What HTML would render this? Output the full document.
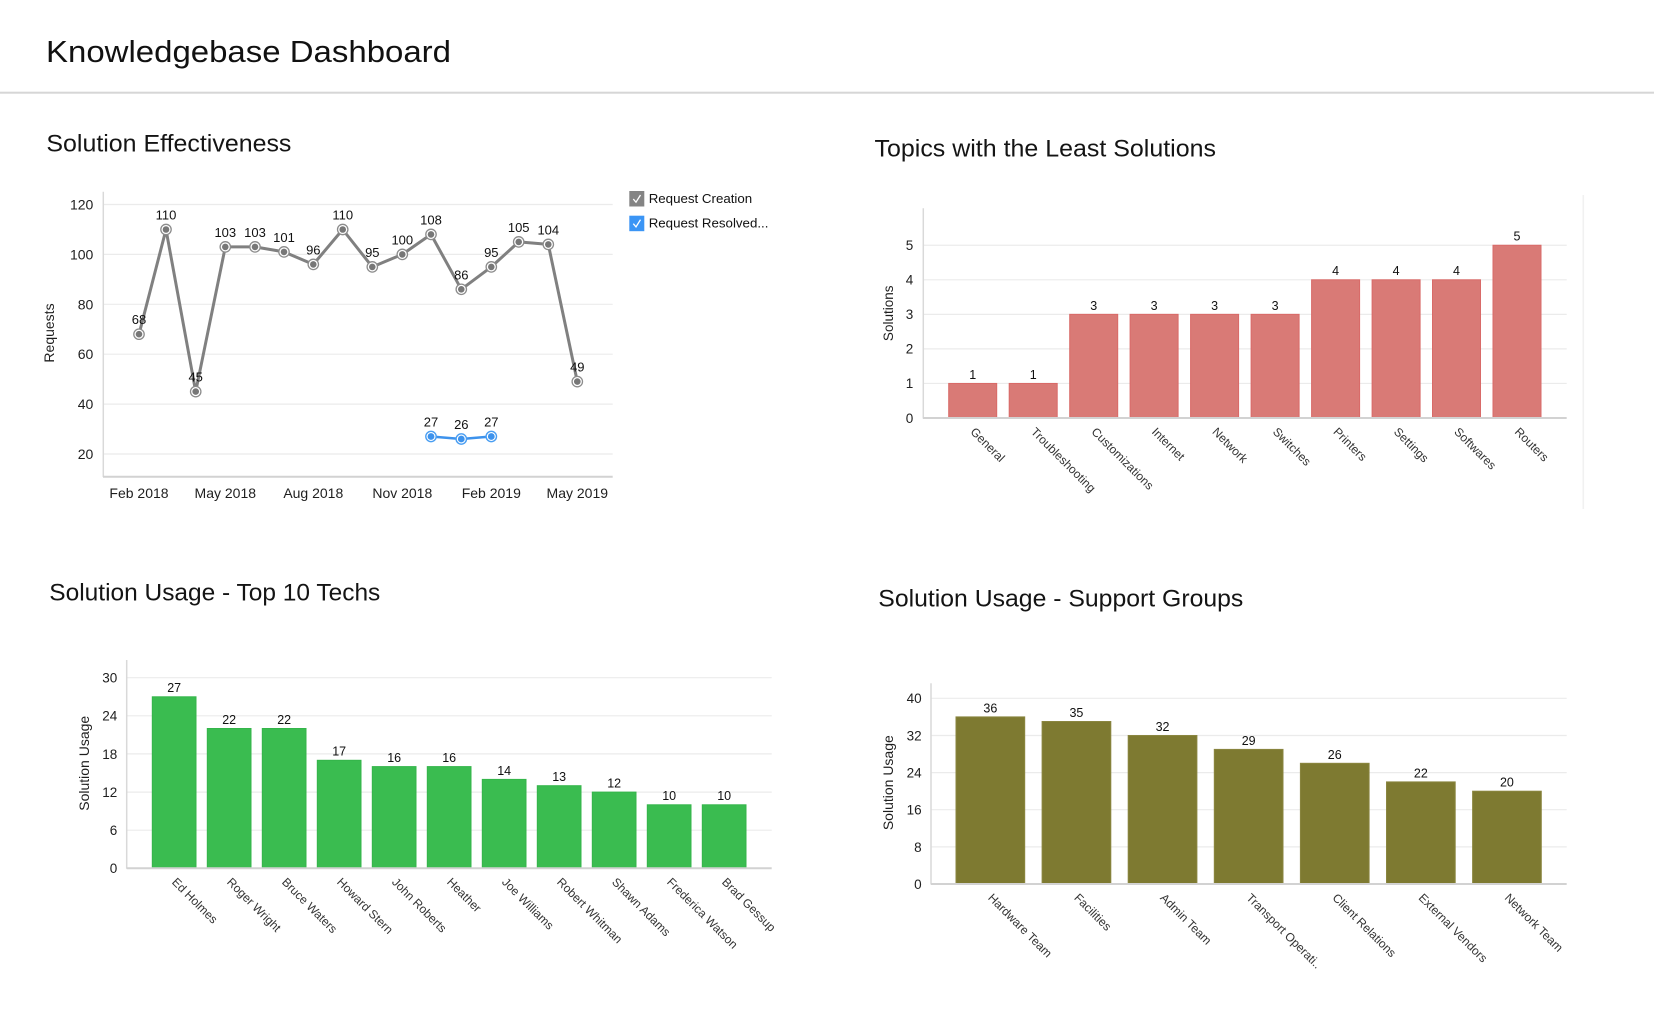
<!DOCTYPE html>
<html>
<head>
<meta charset="utf-8">
<style>
html,body{margin:0;padding:0;background:#fff;}
svg{display:block;}
text{font-family:"Liberation Sans",Arial,sans-serif;}
.ttl{font-size:24px;fill:#141414;}
.tick{font-size:14px;fill:#1e1e1e;}
.tick2{font-size:13.5px;fill:#1e1e1e;}
.dl{font-size:13px;fill:#111;text-anchor:middle;}
.bl{font-size:12.5px;fill:#111;text-anchor:middle;}
.rl{font-size:12px;fill:#333;}
.ax{font-size:14px;fill:#1e1e1e;text-anchor:middle;}
.grid{stroke:#ebebeb;stroke-width:1.2;}
.yax{stroke:#d9d9d9;stroke-width:1.5;}
.base{stroke:#d2d2d2;stroke-width:2;}
</style>
</head>
<body>
<svg width="1654" height="1018" viewBox="0 0 1654 1018" xmlns="http://www.w3.org/2000/svg">
<rect width="1654" height="1018" fill="#fff"/>

<!-- Header -->
<text x="46" y="62" style="font-size:31px;fill:#111;" textLength="405" lengthAdjust="spacingAndGlyphs">Knowledgebase Dashboard</text>
<rect x="0" y="91.7" width="1654" height="2" fill="#d6d6d6"/>

<!-- ============ Chart 1: Solution Effectiveness ============ -->
<text class="ttl" x="46.4" y="151.7" textLength="245" lengthAdjust="spacingAndGlyphs">Solution Effectiveness</text>

<g>
<line class="grid" x1="103" y1="204.5" x2="612.7" y2="204.5"/>
<line class="grid" x1="103" y1="254.4" x2="612.7" y2="254.4"/>
<line class="grid" x1="103" y1="304.3" x2="612.7" y2="304.3"/>
<line class="grid" x1="103" y1="354.2" x2="612.7" y2="354.2"/>
<line class="grid" x1="103" y1="404.1" x2="612.7" y2="404.1"/>
<line class="grid" x1="103" y1="454" x2="612.7" y2="454"/>
<line class="yax" x1="103.3" y1="191.7" x2="103.3" y2="477"/>
<line class="base" x1="103" y1="476.7" x2="612.7" y2="476.7"/>
</g>
<g class="tick" text-anchor="end">
<text x="93.3" y="209.5">120</text>
<text x="93.3" y="259.4">100</text>
<text x="93.3" y="309.3">80</text>
<text x="93.3" y="359.2">60</text>
<text x="93.3" y="409.1">40</text>
<text x="93.3" y="459">20</text>
</g>
<g class="tick" text-anchor="middle">
<text x="139" y="498">Feb 2018</text>
<text x="225.3" y="498">May 2018</text>
<text x="313.3" y="498">Aug 2018</text>
<text x="402.3" y="498">Nov 2018</text>
<text x="491.3" y="498">Feb 2019</text>
<text x="577.3" y="498">May 2019</text>
</g>
<text class="ax" transform="translate(54,333) rotate(-90)">Requests</text>

<!-- gray series -->
<polyline fill="none" stroke="#808080" stroke-width="3" stroke-linejoin="round"
points="139,334.2 166,229.5 195.7,391.6 225.3,246.9 255,246.9 284,251.9 313.3,264.4 342.7,229.5 372.3,266.9 402.3,254.4 431,234.4 461.3,289.3 491.3,266.9 518.7,241.9 548.3,244.4 577.3,381.6"/>
<g fill="#fff" stroke="#8c8c8c" stroke-width="1.3">
<circle cx="139" cy="334.2" r="5.2"/><circle cx="166" cy="229.5" r="5.2"/><circle cx="195.7" cy="391.6" r="5.2"/>
<circle cx="225.3" cy="246.9" r="5.2"/><circle cx="255" cy="246.9" r="5.2"/><circle cx="284" cy="251.9" r="5.2"/>
<circle cx="313.3" cy="264.4" r="5.2"/><circle cx="342.7" cy="229.5" r="5.2"/><circle cx="372.3" cy="266.9" r="5.2"/>
<circle cx="402.3" cy="254.4" r="5.2"/><circle cx="431" cy="234.4" r="5.2"/><circle cx="461.3" cy="289.3" r="5.2"/>
<circle cx="491.3" cy="266.9" r="5.2"/><circle cx="518.7" cy="241.9" r="5.2"/><circle cx="548.3" cy="244.4" r="5.2"/>
<circle cx="577.3" cy="381.6" r="5.2"/>
</g>
<g fill="#777">
<circle cx="139" cy="334.2" r="3.3"/><circle cx="166" cy="229.5" r="3.3"/><circle cx="195.7" cy="391.6" r="3.3"/>
<circle cx="225.3" cy="246.9" r="3.3"/><circle cx="255" cy="246.9" r="3.3"/><circle cx="284" cy="251.9" r="3.3"/>
<circle cx="313.3" cy="264.4" r="3.3"/><circle cx="342.7" cy="229.5" r="3.3"/><circle cx="372.3" cy="266.9" r="3.3"/>
<circle cx="402.3" cy="254.4" r="3.3"/><circle cx="431" cy="234.4" r="3.3"/><circle cx="461.3" cy="289.3" r="3.3"/>
<circle cx="491.3" cy="266.9" r="3.3"/><circle cx="518.7" cy="241.9" r="3.3"/><circle cx="548.3" cy="244.4" r="3.3"/>
<circle cx="577.3" cy="381.6" r="3.3"/>
</g>
<g class="dl">
<text x="139" y="324.2">68</text><text x="166" y="219.5">110</text><text x="195.7" y="381.6">45</text>
<text x="225.3" y="236.9">103</text><text x="255" y="236.9">103</text><text x="284" y="241.9">101</text>
<text x="313.3" y="254.4">96</text><text x="342.7" y="219.5">110</text><text x="372.3" y="256.9">95</text>
<text x="402.3" y="244.4">100</text><text x="431" y="224.4">108</text><text x="461.3" y="279.3">86</text>
<text x="491.3" y="256.9">95</text><text x="518.7" y="231.9">105</text><text x="548.3" y="234.4">104</text>
<text x="577.3" y="371.6">49</text>
</g>
<!-- blue series -->
<polyline fill="none" stroke="#3d92ec" stroke-width="2.6" points="431,436.5 461.3,439 491.3,436.5"/>
<g fill="#fff" stroke="#4a9ef2" stroke-width="1.4">
<circle cx="431" cy="436.5" r="5.2"/><circle cx="461.3" cy="439" r="5.2"/><circle cx="491.3" cy="436.5" r="5.2"/>
</g>
<g fill="#3d92ec">
<circle cx="431" cy="436.5" r="3.4"/><circle cx="461.3" cy="439" r="3.4"/><circle cx="491.3" cy="436.5" r="3.4"/>
</g>
<g class="dl">
<text x="431" y="426.5">27</text><text x="461.3" y="429">26</text><text x="491.3" y="426.5">27</text>
</g>
<!-- legend -->
<rect x="629.3" y="191" width="15" height="15.5" fill="#848484"/>
<path d="M633.3,199 L636,202.2 L640.5,195" fill="none" stroke="#fff" stroke-width="1.3"/>
<text x="648.7" y="202.8" style="font-size:13.3px;fill:#111;">Request Creation</text>
<rect x="629.3" y="215.7" width="15" height="15.5" fill="#3b95f5"/>
<path d="M633.3,223.7 L636,226.9 L640.5,219.7" fill="none" stroke="#fff" stroke-width="1.3"/>
<text x="648.7" y="227.6" style="font-size:13.3px;fill:#111;">Request Resolved...</text>

<!-- ============ Chart 2: Topics with the Least Solutions ============ -->
<text class="ttl" x="874.5" y="156.7" textLength="341.5" lengthAdjust="spacingAndGlyphs">Topics with the Least Solutions</text>
<line x1="1583.3" y1="195" x2="1583.3" y2="509" stroke="#f1f1f1" stroke-width="1.5"/>
<g>
<line class="grid" x1="923" y1="383.45" x2="1566.7" y2="383.45"/>
<line class="grid" x1="923" y1="348.9" x2="1566.7" y2="348.9"/>
<line class="grid" x1="923" y1="314.35" x2="1566.7" y2="314.35"/>
<line class="grid" x1="923" y1="279.8" x2="1566.7" y2="279.8"/>
<line class="grid" x1="923" y1="245.25" x2="1566.7" y2="245.25"/>
<line class="yax" x1="923.3" y1="208.3" x2="923.3" y2="418.5"/>
</g>
<g class="tick2" text-anchor="end">
<text x="913.3" y="422.8">0</text>
<text x="913.3" y="388.2">1</text>
<text x="913.3" y="353.6">2</text>
<text x="913.3" y="319.1">3</text>
<text x="913.3" y="284.5">4</text>
<text x="913.3" y="250">5</text>
</g>
<text class="ax" transform="translate(893,313.3) rotate(-90)" style="font-size:13.5px">Solutions</text>
<g fill="#d97a76" stroke="#d96a68" stroke-width="1">
<rect x="948.7" y="383.45" width="48" height="34.55"/>
<rect x="1009.2" y="383.45" width="48" height="34.55"/>
<rect x="1069.7" y="314.35" width="48" height="103.65"/>
<rect x="1130.1" y="314.35" width="48" height="103.65"/>
<rect x="1190.6" y="314.35" width="48" height="103.65"/>
<rect x="1251.1" y="314.35" width="48" height="103.65"/>
<rect x="1311.6" y="279.8" width="48" height="138.2"/>
<rect x="1372.1" y="279.8" width="48" height="138.2"/>
<rect x="1432.5" y="279.8" width="48" height="138.2"/>
<rect x="1493" y="245.25" width="48" height="172.75"/>
</g>
<line class="base" x1="923" y1="418" x2="1566.7" y2="418"/>
<g class="bl">
<text x="972.7" y="378.9">1</text><text x="1033.2" y="378.9">1</text>
<text x="1093.7" y="309.8">3</text><text x="1154.1" y="309.8">3</text>
<text x="1214.6" y="309.8">3</text><text x="1275.1" y="309.8">3</text>
<text x="1335.6" y="275.2">4</text><text x="1396.1" y="275.2">4</text>
<text x="1456.5" y="275.2">4</text><text x="1517" y="240.7">5</text>
</g>
<g class="rl">
<text transform="translate(969.7,432.5) rotate(45)">General</text>
<text transform="translate(1030.2,432.5) rotate(45)">Troubleshooting</text>
<text transform="translate(1090.7,432.5) rotate(45)">Customizations</text>
<text transform="translate(1151.1,432.5) rotate(45)">Internet</text>
<text transform="translate(1211.6,432.5) rotate(45)">Network</text>
<text transform="translate(1272.1,432.5) rotate(45)">Switches</text>
<text transform="translate(1332.6,432.5) rotate(45)">Printers</text>
<text transform="translate(1393.1,432.5) rotate(45)">Settings</text>
<text transform="translate(1453.5,432.5) rotate(45)">Softwares</text>
<text transform="translate(1514,432.5) rotate(45)">Routers</text>
</g>

<!-- ============ Chart 3: Solution Usage - Top 10 Techs ============ -->
<text class="ttl" x="49.3" y="600.7" textLength="331" lengthAdjust="spacingAndGlyphs">Solution Usage - Top 10 Techs</text>
<g>
<line class="grid" x1="126.7" y1="830.2" x2="771.7" y2="830.2"/>
<line class="grid" x1="126.7" y1="792.1" x2="771.7" y2="792.1"/>
<line class="grid" x1="126.7" y1="753.9" x2="771.7" y2="753.9"/>
<line class="grid" x1="126.7" y1="715.8" x2="771.7" y2="715.8"/>
<line class="grid" x1="126.7" y1="677.7" x2="771.7" y2="677.7"/>
<line class="yax" x1="126.7" y1="660" x2="126.7" y2="868.8"/>
</g>
<g class="tick2" text-anchor="end">
<text x="117.3" y="873.2">0</text>
<text x="117.3" y="835.1">6</text>
<text x="117.3" y="797">12</text>
<text x="117.3" y="758.8">18</text>
<text x="117.3" y="720.7">24</text>
<text x="117.3" y="682.6">30</text>
</g>
<text class="ax" transform="translate(89,763.3) rotate(-90)">Solution Usage</text>
<g fill="#3abc50" stroke="#34b54a" stroke-width="1">
<rect x="152.3" y="696.8" width="43.7" height="171.5"/>
<rect x="207.3" y="728.5" width="43.7" height="139.8"/>
<rect x="262.3" y="728.5" width="43.7" height="139.8"/>
<rect x="317.3" y="760.3" width="43.7" height="108"/>
<rect x="372.3" y="766.6" width="43.7" height="101.7"/>
<rect x="427.3" y="766.6" width="43.7" height="101.7"/>
<rect x="482.3" y="779.4" width="43.7" height="88.9"/>
<rect x="537.3" y="785.7" width="43.7" height="82.6"/>
<rect x="592.3" y="792.1" width="43.7" height="76.2"/>
<rect x="647.3" y="804.8" width="43.7" height="63.5"/>
<rect x="702.3" y="804.8" width="43.7" height="63.5"/>
</g>
<line class="base" x1="126.7" y1="868.3" x2="771.7" y2="868.3"/>
<g class="bl">
<text x="174.2" y="692.2">27</text><text x="229.2" y="723.9">22</text><text x="284.2" y="723.9">22</text>
<text x="339.2" y="755.7">17</text><text x="394.2" y="762">16</text><text x="449.2" y="762">16</text>
<text x="504.2" y="774.8">14</text><text x="559.2" y="781.1">13</text><text x="614.2" y="787.5">12</text>
<text x="669.2" y="800.2">10</text><text x="724.2" y="800.2">10</text>
</g>
<clipPath id="c3"><rect x="0" y="860" width="776" height="158"/></clipPath>
<g class="rl" clip-path="url(#c3)">
<text transform="translate(171.2,882.8) rotate(45)">Ed Holmes</text>
<text transform="translate(226.2,882.8) rotate(45)">Roger Wright</text>
<text transform="translate(281.2,882.8) rotate(45)">Bruce Waters</text>
<text transform="translate(336.2,882.8) rotate(45)">Howard Stern</text>
<text transform="translate(391.2,882.8) rotate(45)">John Roberts</text>
<text transform="translate(446.2,882.8) rotate(45)">Heather</text>
<text transform="translate(501.2,882.8) rotate(45)">Joe Williams</text>
<text transform="translate(556.2,882.8) rotate(45)">Robert Whitman</text>
<text transform="translate(611.2,882.8) rotate(45)">Shawn Adams</text>
<text transform="translate(666.2,882.8) rotate(45)">Frederica Watson</text>
<text transform="translate(721.2,882.8) rotate(45)">Brad Gessup</text>
</g>

<!-- ============ Chart 4: Solution Usage - Support Groups ============ -->
<text class="ttl" x="878.3" y="606.7" textLength="365" lengthAdjust="spacingAndGlyphs">Solution Usage - Support Groups</text>
<g>
<line class="grid" x1="931" y1="846.9" x2="1566.7" y2="846.9"/>
<line class="grid" x1="931" y1="809.7" x2="1566.7" y2="809.7"/>
<line class="grid" x1="931" y1="772.6" x2="1566.7" y2="772.6"/>
<line class="grid" x1="931" y1="735.5" x2="1566.7" y2="735.5"/>
<line class="grid" x1="931" y1="698.3" x2="1566.7" y2="698.3"/>
<line class="yax" x1="931" y1="683.3" x2="931" y2="884.5"/>
</g>
<g class="tick2" text-anchor="end">
<text x="921.7" y="888.9">0</text>
<text x="921.7" y="851.8">8</text>
<text x="921.7" y="814.6">16</text>
<text x="921.7" y="777.5">24</text>
<text x="921.7" y="740.4">32</text>
<text x="921.7" y="703.2">40</text>
</g>
<text class="ax" transform="translate(893,782.7) rotate(-90)">Solution Usage</text>
<g fill="#7e7a31" stroke="#8a8640" stroke-width="1">
<rect x="956" y="716.9" width="68.7" height="167.1"/>
<rect x="1042.1" y="721.5" width="68.7" height="162.5"/>
<rect x="1128.2" y="735.5" width="68.7" height="148.5"/>
<rect x="1214.3" y="749.4" width="68.7" height="134.6"/>
<rect x="1300.4" y="763.3" width="68.7" height="120.7"/>
<rect x="1386.5" y="781.9" width="68.7" height="102.1"/>
<rect x="1472.6" y="791.2" width="68.7" height="92.8"/>
</g>
<line class="base" x1="931" y1="884" x2="1566.7" y2="884"/>
<g class="bl">
<text x="990.35" y="712.4">36</text><text x="1076.45" y="717">35</text><text x="1162.55" y="731">32</text>
<text x="1248.65" y="744.9">29</text><text x="1334.75" y="758.8">26</text><text x="1420.85" y="777.4">22</text>
<text x="1506.95" y="786.7">20</text>
</g>
<g class="rl">
<text transform="translate(987.35,898.5) rotate(45)">Hardware Team</text>
<text transform="translate(1073.45,898.5) rotate(45)">Facilities</text>
<text transform="translate(1159.55,898.5) rotate(45)">Admin Team</text>
<text transform="translate(1245.65,898.5) rotate(45)">Transport Operati..</text>
<text transform="translate(1331.75,898.5) rotate(45)">Client Relations</text>
<text transform="translate(1417.85,898.5) rotate(45)">External Vendors</text>
<text transform="translate(1503.95,898.5) rotate(45)">Network Team</text>
</g>
</svg>
</body>
</html>
